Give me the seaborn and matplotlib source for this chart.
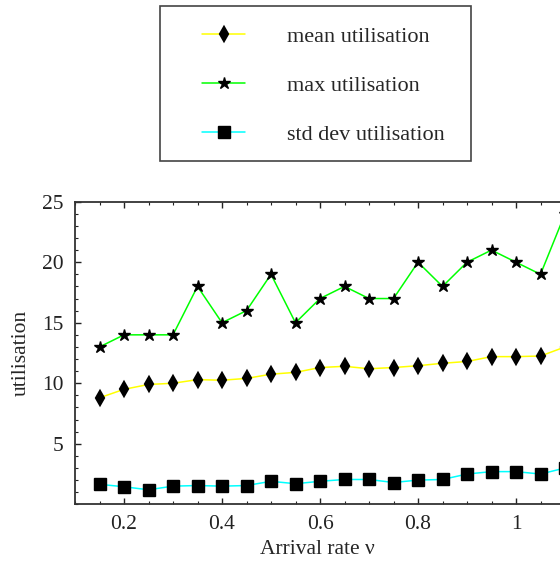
import numpy as np
import pandas as pd
import matplotlib
matplotlib.use("Agg")
import matplotlib.pyplot as plt
import seaborn as sns
from matplotlib.ticker import MultipleLocator
from matplotlib.patches import Rectangle

# values
arrival_rate = [0.15, 0.2, 0.25, 0.3, 0.35, 0.4, 0.45, 0.5, 0.55, 0.6,
                0.65, 0.7, 0.75, 0.8, 0.85, 0.9, 0.95, 1.0, 1.05, 1.1]
mean_util = [8.8, 9.5, 9.9, 10.0, 10.3, 10.25, 10.4, 10.75, 10.9, 11.3,
             11.4, 11.2, 11.3, 11.45, 11.65, 11.8, 12.2, 12.2, 12.25, 13.0]
max_util = [13, 14, 14, 14, 18, 15, 16, 19, 15, 17,
            18, 17, 17, 20, 18, 20, 21, 20, 19, 24]
std_util = [1.65, 1.45, 1.2, 1.5, 1.55, 1.5, 1.55, 1.9, 1.7, 1.9,
            2.05, 2.05, 1.8, 2.0, 2.05, 2.5, 2.7, 2.7, 2.5, 3.0]

series = ["mean utilisation", "max utilisation", "std dev utilisation"]
line_colors = ["#ffff00", "#00ff00", "#00ffff"]
markers = ["d", "*", "s"]
marker_sizes = [6.8, 9, 8.5]
edge_widths = [1.6, 1.0, 1.0]

df = pd.DataFrame({
    "rate": arrival_rate * 3,
    "value": mean_util + max_util + std_util,
    "series": np.repeat(series, len(arrival_rate)),
})

sns.set_style("ticks")
plt.rcParams["font.family"] = ["Liberation Serif", "DejaVu Serif"]

fig = plt.figure(figsize=(5.6, 5.7), dpi=100)
W, H = 560, 570
ax = fig.add_axes([75 / W, (H - 504.3) / H, (W - 75) / W, 302.6 / H])

for name, col, mk, ms, mew in zip(series, line_colors, markers,
                                  marker_sizes, edge_widths):
    sns.lineplot(
        data=df[df["series"] == name], x="rate", y="value", ax=ax,
        color=col, linewidth=1.1, marker=mk, markersize=ms,
        markerfacecolor="black", markeredgecolor="black",
        markeredgewidth=mew, label=name, clip_on=False, zorder=3,
    )

ax.set_xlim(0.1, 0.1 + (W - 75) / 490)
ax.set_ylim(0, 25)
ax.xaxis.set_minor_locator(MultipleLocator(0.05))
ax.yaxis.set_minor_locator(MultipleLocator(1))
ax.set_xticks([0.2, 0.4, 0.6, 0.8, 1.0])
ax.set_xticklabels(["0.2", "0.4", "0.6", "0.8", "1"])
ax.set_yticks([5, 10, 15, 20, 25])

ax.tick_params(which="both", direction="in", top=True, right=False,
               labelsize=15.5, colors="#222222", pad=8)
ax.tick_params(which="major", length=4, width=1)
ax.tick_params(which="minor", length=2.5, width=0.8)
for side in ["left", "bottom", "top"]:
    ax.spines[side].set_color("#333333")
    ax.spines[side].set_linewidth(1.3)
ax.spines["right"].set_visible(False)

ax.set_xlabel("Arrival rate ν", fontsize=15.5, labelpad=4)
ax.set_ylabel("utilisation", fontsize=15.5, labelpad=8)

handles, labels = ax.get_legend_handles_labels()
ax.get_legend().remove()
fig.legend(handles, labels, loc="upper left",
           bbox_to_anchor=(202 / W, 1 - 26 / H), frameon=False,
           borderpad=0, borderaxespad=0, handlelength=1.94,
           handletextpad=1.9, labelspacing=1.28, prop={"size": 16})
fig.patches.append(Rectangle((160 / W, 1 - 161 / H), 311 / W, 155 / H,
                             transform=fig.transFigure, fill=False,
                             edgecolor="#444444", linewidth=1.2))

fig.savefig("out.png", dpi=100)
